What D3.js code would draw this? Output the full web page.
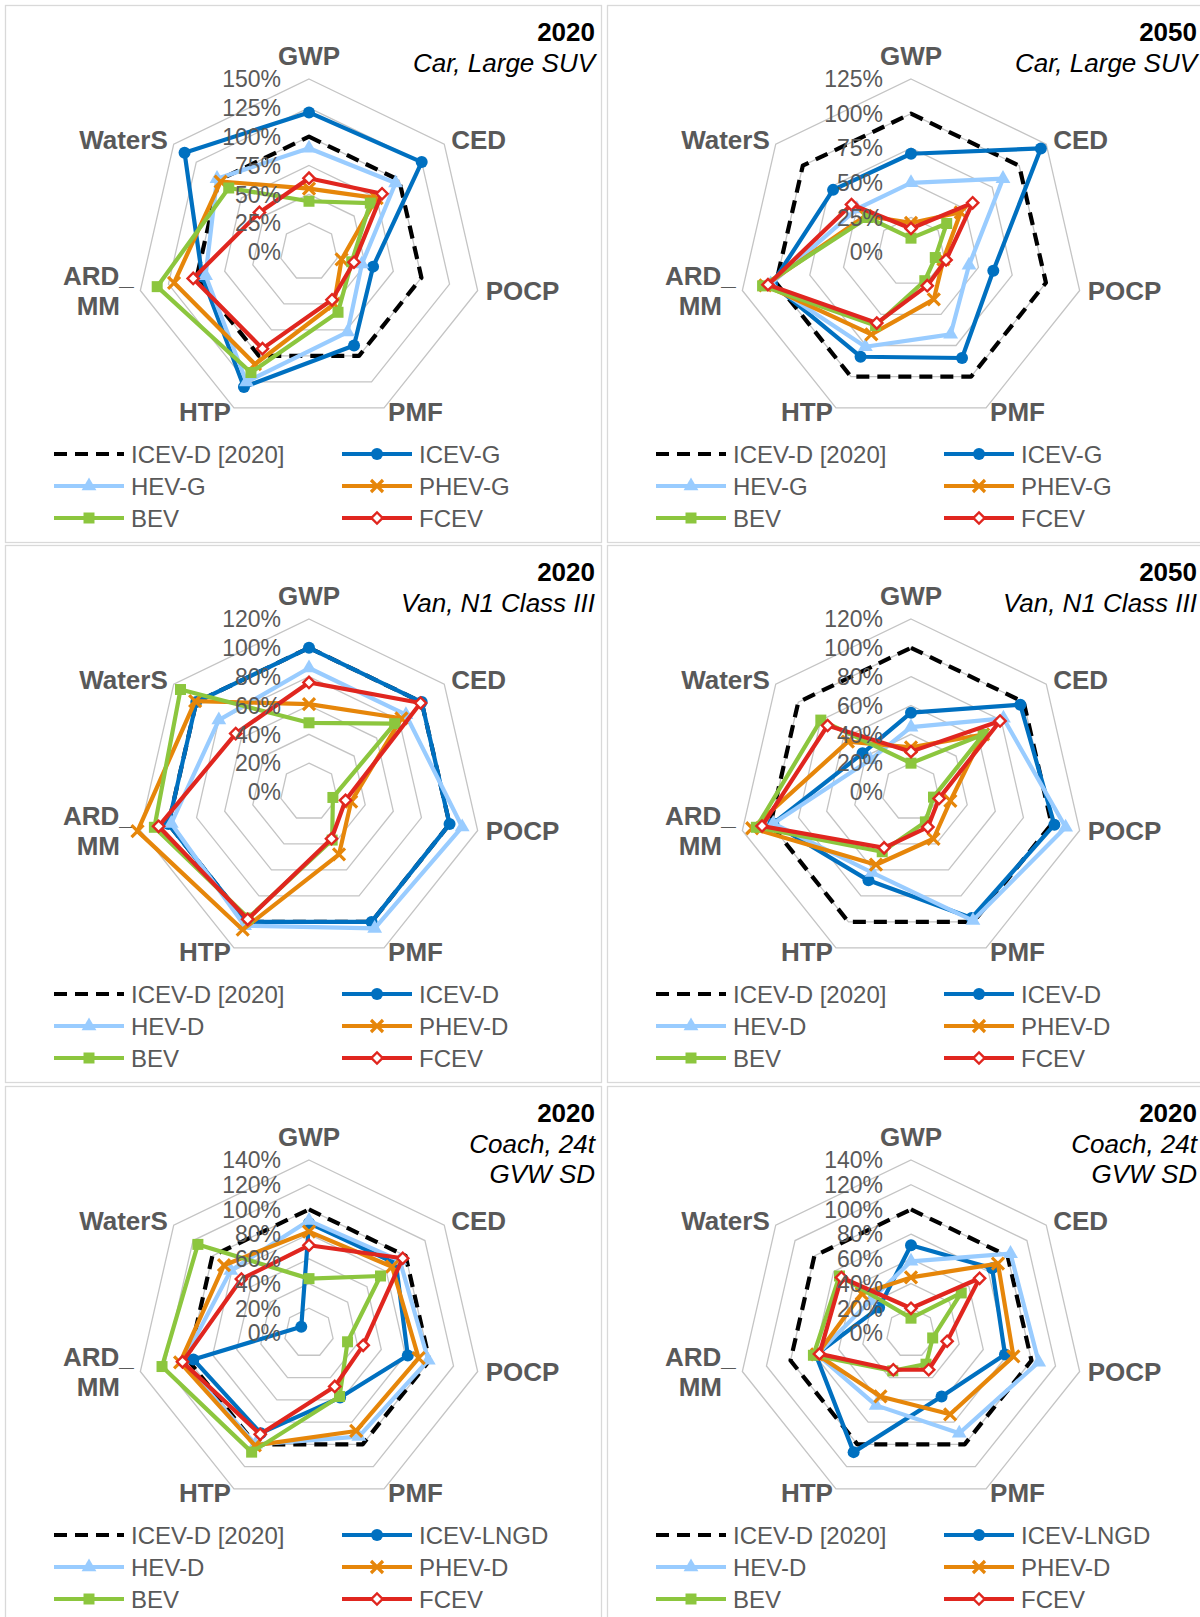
<!DOCTYPE html>
<html><head><meta charset="utf-8">
<script src="https://cdn.jsdelivr.net/npm/d3@7"></script>
<style>
body{margin:0;background:#fff}
svg{display:block}
text{font-family:"Liberation Sans",Arial,Helvetica,sans-serif}
</style>
</head><body>
<svg id="c" width="1200" height="1617"></svg>
<script>
// ---------- DATA ----------
const axes = ["GWP","CED","POCP","PMF","HTP","ARD_|MM","WaterS"];
const namesCar   = ["ICEV-D [2020]","ICEV-G","HEV-G","PHEV-G","BEV","FCEV"];
const namesVan   = ["ICEV-D [2020]","ICEV-D","HEV-D","PHEV-D","BEV","FCEV"];
const namesCoach = ["ICEV-D [2020]","ICEV-LNGD","HEV-D","PHEV-D","BEV","FCEV"];
const ticksCar2020 = [0,25,50,75,100,125,150];
const ticksCar2050 = [0,25,50,75,100,125];
const ticksVan     = [0,20,40,60,80,100,120];
const ticksCoach   = [0,20,40,60,80,100,120,140];
// order of values: GWP, CED, POCP, PMF, HTP, ARD_MM, WaterS
const car2020 = [
  [100,100,100,100,100,100,100],
  [121,125,57,90,130,95,138],
  [90,96,47,77,125,92,102],
  [55,75,29,50,108,120,98],
  [44,68,38,58,116,135,89],
  [64,81,40,46,93,103,55]
];
const car2050 = [
  [100,100,100,100,100,100,100],
  [71,120,61,85,84,103,72],
  [50,85,43,66,76,104,50],
  [21,46,24,38,66,108,42],
  [10,33,18,23,59,110,40],
  [17,57,26,27,57,106,55]
];
const van2020 = [
  [100,100,100,100,100,100,100],
  [100,100,100,100,100,100,100],
  [86,86,109,105,103,98,80],
  [61,82,30,48,106,122,101],
  [48,76,17,37,97,110,114],
  [76,99,26,36,98,107,65]
];
const van2050 = [
  [100,100,100,100,100,100,100],
  [55,97,102,97,68,98,43],
  [45,82,110,99,62,98,36],
  [31,64,28,36,56,113,56],
  [20,64,16,23,46,110,80],
  [28,79,20,27,43,106,74]
];
const coachA = [
  [100,100,100,100,100,100,100],
  [89,90,82,58,90,96,8],
  [91,94,99,93,100,105,81],
  [82,86,91,88,101,107,88],
  [44,74,32,57,107,122,115],
  [71,97,45,48,91,105,70]
];
const coachB = [
  [100,100,100,100,100,100,100],
  [71,84,78,57,107,79,33],
  [58,103,106,90,65,78,42],
  [45,90,85,73,57,78,51],
  [12,52,18,28,34,81,74],
  [20,71,30,33,33,76,72]
];

// ---------- STYLE ----------
const colors  = ["#000000","#0070c0","#99ccff","#e6860a","#8cc63e","#e0261f"];
const markers = ["none","circle","triangle","x","square","diamond"];
const grey = "#595959";

const panels = [
  {col:0,row:0,data:car2020,names:namesCar,ticks:ticksCar2020,title:["2020","Car, Large SUV"]},
  {col:1,row:0,data:car2050,names:namesCar,ticks:ticksCar2050,title:["2050","Car, Large SUV"]},
  {col:0,row:1,data:van2020,names:namesVan,ticks:ticksVan,title:["2020","Van, N1 Class III"]},
  {col:1,row:1,data:van2050,names:namesVan,ticks:ticksVan,title:["2050","Van, N1 Class III"]},
  {col:0,row:2,data:coachA,names:namesCoach,ticks:ticksCoach,title:["2020","Coach, 24t","GVW SD"]},
  {col:1,row:2,data:coachB,names:namesCoach,ticks:ticksCoach,title:["2020","Coach, 24t","GVW SD"]}
];
const colX = [0,602], rowY = [0,540,1081];
const R = 173, CX = 309, CY = 252;
// label offsets from outer vertex: [dx, dy, anchor]
const labelOff = [[0,-23,"middle"],[7,-5,"start"],[8,0,"start"],[4,4,"start"],[-3,4,"end"],[-42,-14.5,"middle"],[-6,-5,"end"]];

const svg = d3.select("#c");

function drawMarker(g, type, color, x, y) {
  if (type === "circle") {
    g.append("circle").attr("cx",x).attr("cy",y).attr("r",6).attr("fill",color);
  } else if (type === "triangle") {
    g.append("path").attr("d",d3.symbol(d3.symbolTriangle,95)()).attr("transform",`translate(${x},${y})`).attr("fill",color);
  } else if (type === "square") {
    g.append("path").attr("d",d3.symbol(d3.symbolSquare,121)()).attr("transform",`translate(${x},${y})`).attr("fill",color);
  } else if (type === "x") {
    g.append("path").attr("d","M-6,-6L6,6M-6,6L6,-6").attr("transform",`translate(${x},${y})`)
      .attr("stroke",color).attr("stroke-width",3.2).attr("fill","none");
  } else if (type === "diamond") {
    g.append("path").attr("d",d3.symbol(d3.symbolSquare,64)()).attr("transform",`translate(${x},${y}) rotate(45)`)
      .attr("fill","#fff").attr("stroke",color).attr("stroke-width",2.4);
  }
}

panels.forEach(p => {
  const g = svg.append("g").attr("transform",`translate(${colX[p.col]},${rowY[p.row]})`);
  g.append("rect").attr("x",5.5).attr("y",5.5).attr("width",596).attr("height",537)
    .attr("fill","none").attr("stroke","#d9d9d9").attr("stroke-width",1.3);

  p.title.forEach((t,i) => {
    g.append("text").attr("x",595).attr("y",32 + 30.5*i).attr("dy","0.36em")
      .attr("text-anchor","end").attr("font-size",26)
      .attr("font-weight", i===0 ? "bold" : "normal")
      .attr("font-style", i===0 ? "normal" : "italic")
      .attr("fill","#000").text(t);
  });

  const cg = g.append("g").attr("transform",`translate(${CX},${CY})`);
  const max = p.ticks[p.ticks.length-1];
  const r = d3.scaleLinear().domain([0,max]).range([0,R]);
  const ang = d3.scaleLinear().domain([0,axes.length]).range([0,2*Math.PI]);
  const line = d3.lineRadial().angle((d,i)=>ang(i)).radius(d=>r(d)).curve(d3.curveLinearClosed);

  // grid rings
  p.ticks.filter(t=>t>0).forEach(t => {
    cg.append("path").attr("d",line(axes.map(()=>t))).attr("fill","none")
      .attr("stroke","#c4c4c4").attr("stroke-width",1.3);
  });

  // axis labels
  axes.forEach((a,i) => {
    const [vx,vy] = d3.pointRadial(ang(i), r(max));
    const [dx,dy,anc] = labelOff[i];
    const parts = a.split("|");
    parts.forEach((s,k) => {
      cg.append("text").attr("x",vx+dx).attr("y",vy+dy+k*30).attr("dy","0.36em")
        .attr("text-anchor",anc).attr("font-size",26).attr("font-weight","bold")
        .attr("fill",grey).text(s);
    });
  });

  // series
  p.data.forEach((vals,si) => {
    const sg = cg.append("g");
    sg.append("path").attr("d",line(vals)).attr("fill","none")
      .attr("stroke",colors[si]).attr("stroke-width",4.2)
      .attr("stroke-linejoin","round")
      .attr("stroke-dasharray", si===0 ? "13 8" : null);
    if (markers[si] !== "none") {
      vals.forEach((v,i) => {
        const [x,y] = d3.pointRadial(ang(i), r(v));
        drawMarker(sg, markers[si], colors[si], x, y);
      });
    }
  });

  // tick labels
  p.ticks.forEach(t => {
    cg.append("text").attr("x",-28).attr("y",-r(t)).attr("dy","0.36em")
      .attr("text-anchor","end").attr("font-size",23).attr("fill",grey).text(t+"%");
  });

  // legend
  const legY = [454,486,518];
  p.names.forEach((n,i) => {
    const lx = i%2===0 ? 54 : 342;
    const ly = legY[Math.floor(i/2)];
    const lg = g.append("g");
    lg.append("line").attr("x1",lx).attr("x2",lx+70).attr("y1",ly).attr("y2",ly)
      .attr("stroke",colors[i]).attr("stroke-width",4.2)
      .attr("stroke-dasharray", i===0 ? "13 8" : null);
    if (markers[i] !== "none") drawMarker(lg, markers[i], colors[i], lx+35, ly);
    lg.append("text").attr("x",lx+77).attr("y",ly).attr("dy","0.36em")
      .attr("font-size",24).attr("fill",grey).text(n);
  });
});
</script>
</body></html>
